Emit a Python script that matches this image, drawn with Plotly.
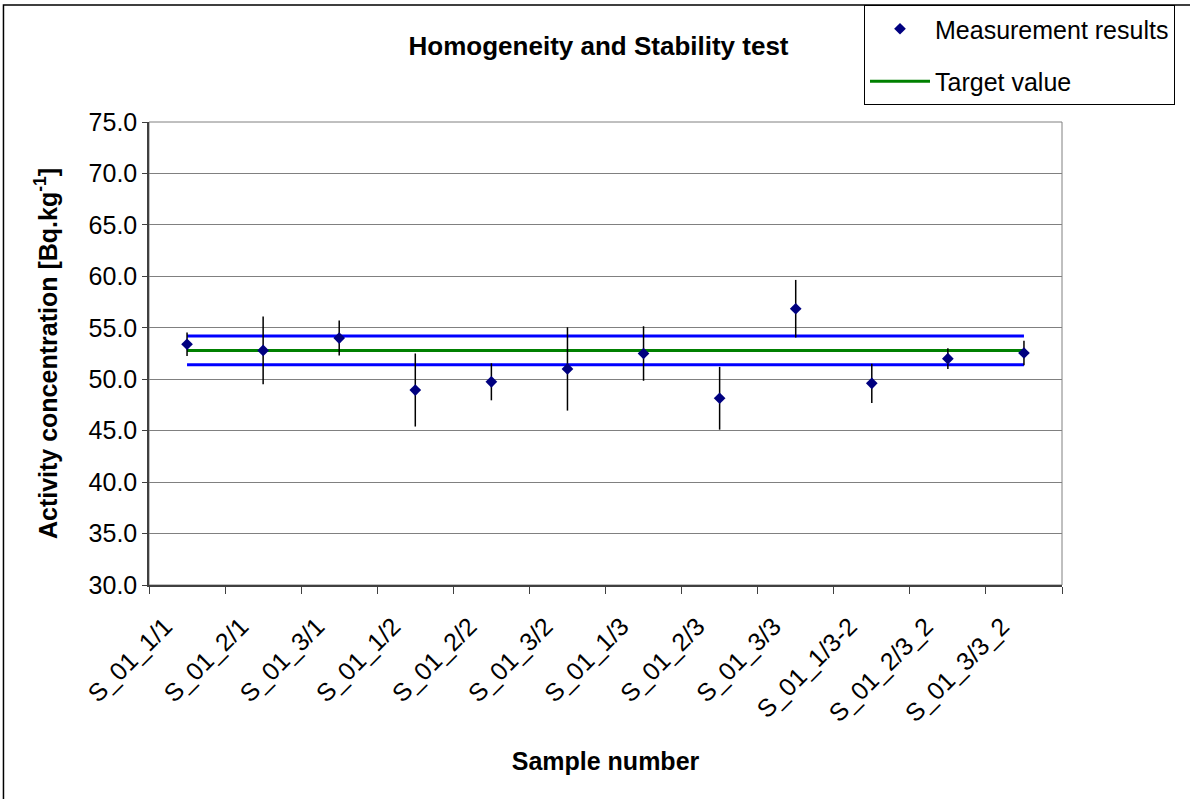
import plotly.graph_objects as go

# Sample identifiers (x categories)
samples = ["S_01_1/1", "S_01_2/1", "S_01_3/1", "S_01_1/2", "S_01_2/2", "S_01_3/2",
           "S_01_1/3", "S_01_2/3", "S_01_3/3", "S_01_1/3-2", "S_01_2/3_2", "S_01_3/3_2"]

# Measured activity concentrations [Bq/kg] and their uncertainties
activity = [53.4, 52.8, 54.0, 48.95, 49.75, 51.0, 52.5, 48.15, 56.85, 49.6, 52.0, 52.55]
uncertainty = [1.15, 3.3, 1.7, 3.55, 1.8, 4.05, 2.65, 3.05, 2.8, 1.9, 1.0, 1.2]

# Target value and its acceptance band
target_value = 52.8
band_upper = 54.2
band_lower = 51.4

target_line = [target_value] * len(samples)
upper_line = [band_upper] * len(samples)
lower_line = [band_lower] * len(samples)

FONT = "Liberation Sans, Arial, sans-serif"

fig = go.Figure()

fig.add_trace(go.Scatter(
    x=samples, y=upper_line, mode="lines",
    line=dict(color="#0000FF", width=3), showlegend=False, hoverinfo="skip"))
fig.add_trace(go.Scatter(
    x=samples, y=lower_line, mode="lines",
    line=dict(color="#0000FF", width=3), showlegend=False, hoverinfo="skip"))
fig.add_trace(go.Scatter(
    x=samples, y=target_line, mode="lines", name="Target value",
    line=dict(color="#008000", width=3), legendgroup="b", legendrank=2))
fig.add_trace(go.Scatter(
    x=samples, y=activity, mode="markers", name="Measurement results",
    marker=dict(symbol="diamond", color="#000080", size=9),
    error_y=dict(type="data", array=uncertainty, visible=True,
                 color="black", thickness=1.5, width=0),
    legendgroup="a", legendrank=1))

# Plot area frame (grey), drawn below the axis lines
fig.add_shape(type="rect", xref="paper", yref="paper", x0=0, x1=1, y0=0, y1=1,
              line=dict(color="#808080", width=1), layer="below")
# Outer chart border
fig.add_shape(type="rect", xref="paper", yref="paper",
              x0=-0.1594, x1=1.2, y0=-0.5, y1=1.2527,
              line=dict(color="black", width=1.5), layer="below")

fig.update_layout(
    width=1190, height=799,
    margin=dict(l=149, r=128, t=122, b=214, autoexpand=False),
    paper_bgcolor="white", plot_bgcolor="white",
    font=dict(family=FONT, color="black", size=25),
    title=dict(text="<b>Homogeneity and Stability test</b>",
               x=0.503, xanchor="center", y=1 - 46 / 799, yanchor="middle",
               xref="container", yref="container",
               font=dict(family=FONT, size=26, color="black")),
    showlegend=True,
    legend=dict(x=864 / 1190, xanchor="left", y=1 - 5 / 799, yanchor="top",
                xref="container", yref="container",
                bordercolor="black", borderwidth=1, bgcolor="white",
                font=dict(family=FONT, size=25, color="black"),
                traceorder="grouped", tracegroupgap=17, itemwidth=60,
                entrywidth=245, entrywidthmode="pixels"),
)

fig.update_xaxes(
    type="category", range=[-0.5, len(samples) - 0.5],
    tickson="boundaries", ticks="outside", ticklen=7, tickcolor="#404040",
    tickangle=-45, tickfont=dict(family=FONT, size=25, color="black"),
    ticklabelshift=-22, ticklabelstandoff=15,
    showline=True, linecolor="#404040", linewidth=1.5,
    showgrid=False, zeroline=False, automargin=False,
    title=dict(text="<b>Sample number</b>", standoff=27,
               font=dict(family=FONT, size=25, color="black")),
)

fig.update_yaxes(
    range=[30, 75], dtick=5, tick0=30, tickformat=".1f",
    ticks="outside", ticklen=5, tickcolor="#404040",
    tickfont=dict(family=FONT, size=25, color="black"),
    showline=True, linecolor="#404040", linewidth=1.5,
    showgrid=True, gridcolor="#808080", gridwidth=1, zeroline=False, automargin=False,
    title=dict(text="<b>Activity concentration [Bq.kg<sup>-1</sup>]</b>", standoff=24,
               font=dict(family=FONT, size=25, color="black")),
)

fig.write_html("out.html")
